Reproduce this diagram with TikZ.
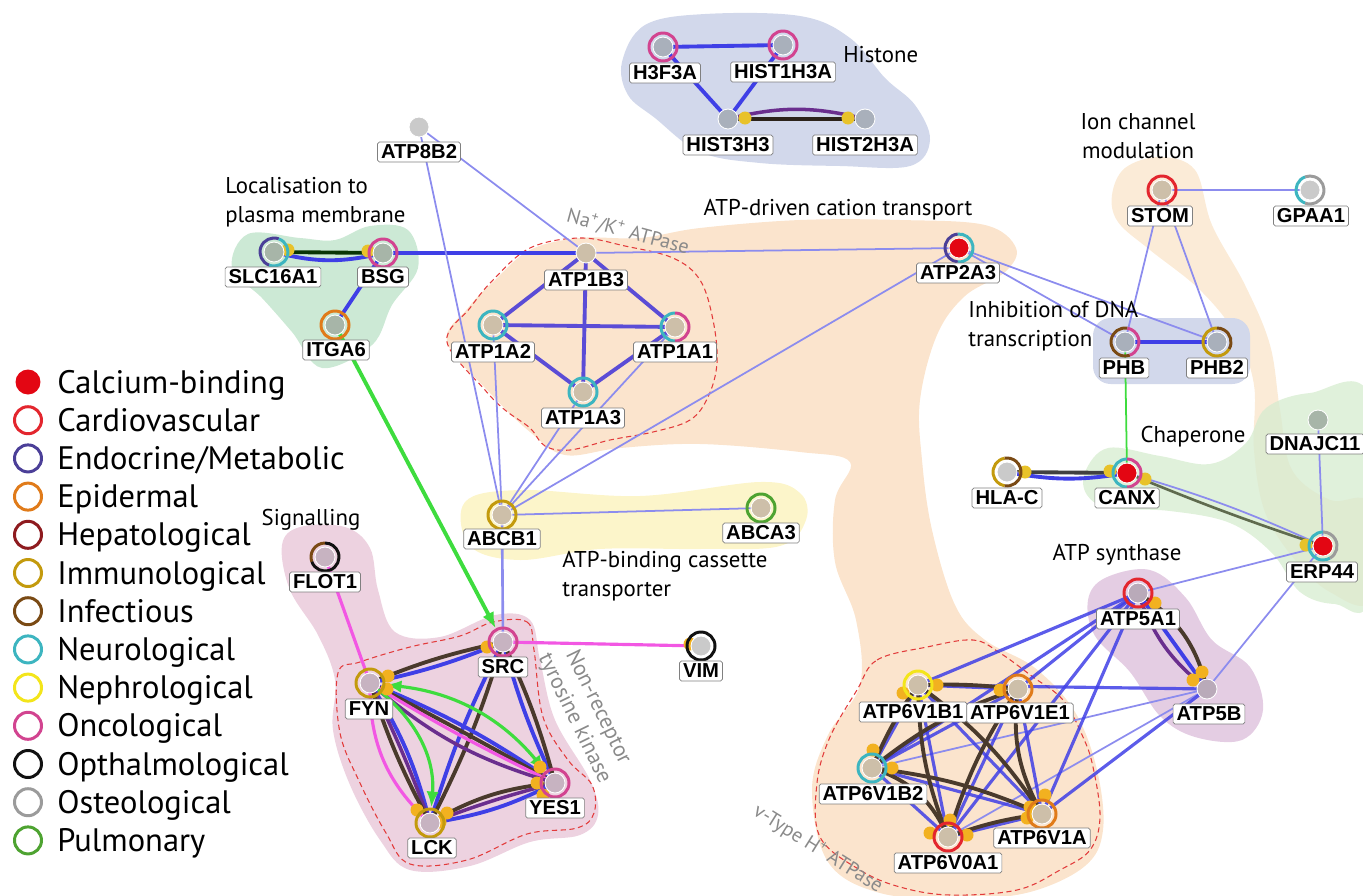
\documentclass[tikz,border=0pt]{standalone}
\usepackage{fontspec}
\setmainfont{PT Sans}
\newfontfamily\protfont{Liberation Sans}
\usetikzlibrary{arrows.meta}
\pgfdeclarelayer{blobs}
\pgfdeclarelayer{links}
\pgfsetlayers{blobs,links,main}

\definecolor{calcium}{HTML}{E30613}
\definecolor{cardio}{HTML}{E3262E}
\definecolor{endo}{HTML}{4B3F98}
\definecolor{epid}{HTML}{E07B1A}
\definecolor{hepat}{HTML}{8E1B1F}
\definecolor{immun}{HTML}{C39A0D}
\definecolor{infect}{HTML}{7A4A14}
\definecolor{neuro}{HTML}{3DB5C0}
\definecolor{nephro}{HTML}{F3E51B}
\definecolor{onco}{HTML}{D24490}
\definecolor{optha}{HTML}{111111}
\definecolor{osteo}{HTML}{9B9B9B}
\definecolor{pulmo}{HTML}{4EA331}
\definecolor{tanfill}{HTML}{CDBFA9}
\definecolor{greyfill}{HTML}{A9B0BB}
\definecolor{lightfill}{HTML}{CACACA}
\definecolor{mauvefill}{HTML}{C7B3C1}
\definecolor{sagefill}{HTML}{A7B5A8}
\definecolor{lilacfill}{HTML}{B9AAB9}
\definecolor{histbg}{HTML}{D2D8EB}
\definecolor{locbg}{HTML}{CCE9D5}
\definecolor{cationbg}{HTML}{FBE4CD}
\definecolor{ionbg}{HTML}{FBEBD7}
\definecolor{chapbg}{HTML}{D6ECCF}
\definecolor{abcbg}{HTML}{FCF5CA}
\definecolor{sigbg}{HTML}{EDD2E0}
\definecolor{synbg}{HTML}{E4CDE3}
\definecolor{faint}{HTML}{8C8CEE}
\definecolor{strong}{HTML}{3F3FE6}
\definecolor{naklink}{HTML}{5B4CD6}
\definecolor{darklink}{HTML}{4A3A2C}
\definecolor{purplelink}{HTML}{6A2E8E}
\definecolor{pinklink}{HTML}{F257E3}
\definecolor{greenlink}{HTML}{3EDC3E}
\definecolor{olivelink}{HTML}{5F6B4E}
\definecolor{blobline}{HTML}{E23B3B}
\definecolor{dot}{HTML}{F2B120}
\definecolor{yellowdot}{HTML}{E8C22A}
\definecolor{greytext}{HTML}{8A8A8A}

\newcommand{\protring}[2]{\draw[#2, line width=1.7pt] (#1.center) circle[radius=0.28cm];}
\newcommand{\protsplit}[5]{%
  \draw[#2, line width=1.7pt] (#1.center) ++(#4:0.28cm) arc[start angle=#4, end angle=#5, radius=0.28cm];
  \draw[#3, line width=1.7pt] (#1.center) ++(#5:0.28cm) arc[start angle=#5, end angle=#4+360, radius=0.28cm];}

\begin{document}
\begin{tikzpicture}[x=0.02cm, y=-0.02cm,
    prot/.style={circle, minimum size=0.4cm, inner sep=0pt, draw=white, line width=0.5pt},
    tag/.style={draw=black!50, fill=white, rounded corners=1pt, inner xsep=2pt, inner ysep=1.3pt,
      text height=8.3pt, text depth=0.4pt, font=\protfont\bfseries\fontsize{11.5}{12}\selectfont},
    grouptext/.style={font=\fontsize{13}{16.5}\selectfont, align=left, inner sep=0pt},
    greylabel/.style={text=greytext, font=\fontsize{11.5}{13.5}\selectfont, inner sep=0pt},
    faintl/.style={faint, line width=1pt},
    strongl/.style={strong, line width=2.2pt},
    nakl/.style={naklink, line width=2.2pt},
    darkl/.style={darklink, line width=2.2pt},
    purplel/.style={purplelink, line width=2pt},
    pinkl/.style={pinklink, line width=1.8pt},
    greenl/.style={greenlink, line width=1.8pt},
    dashblob/.style={blobline, line width=0.6pt, dash pattern=on 3pt off 2pt},
    legdisc/.style={circle, minimum size=0.54cm, inner sep=0pt, line width=1.7pt},
    legtext/.style={anchor=base west, font=\fontsize{18.5}{20}\selectfont, inner sep=0pt}
  ]
  \useasboundingbox (0,0) rectangle (1363,896);

  \begin{pgfonlayer}{blobs}
    \fill[cationbg] plot[smooth cycle, tension=0.6] coordinates {(493,282) (530,250) (580,238) (640,238) (700,228) (800,220) (900,220) (985,225) (1016,248) (1005,272) (965,296) (937,335) (920,400) (922,460) (932,530) (955,605) (985,640) (1035,668) (1075,712) (1097,770) (1103,830) (1085,866) (1030,892) (960,899) (880,893) (828,862) (812,790) (828,735) (860,685) (856,620) (835,562) (835,500) (850,462) (800,452) (700,444) (620,448) (565,455) (530,432) (490,393) (447,342) (468,308)};
    \fill[ionbg] plot[smooth cycle, tension=0.6] coordinates {(1112,195) (1125,168) (1160,157) (1195,170) (1212,225) (1245,285) (1270,345) (1280,410) (1292,470) (1330,500) (1370,505) (1370,600) (1330,592) (1295,560) (1265,512) (1254,450) (1254,385) (1236,335) (1200,290) (1150,250) (1118,222)};
    \fill[chapbg, opacity=0.75] plot[smooth cycle, tension=0.6] coordinates {(1085,472) (1108,448) (1160,456) (1210,464) (1246,443) (1266,408) (1310,393) (1370,398) (1370,595) (1335,604) (1300,592) (1272,553) (1230,523) (1170,511) (1110,508) (1087,495)};
    \fill[histbg] plot[smooth cycle, tension=0.6] coordinates {(622,62) (645,25) (705,14) (800,16) (850,38) (885,78) (915,105) (930,140) (910,166) (840,166) (760,163) (700,152) (655,118) (628,95)};
    \fill[locbg] plot[smooth cycle, tension=0.6] coordinates {(232,268) (248,234) (300,238) (335,240) (370,226) (408,230) (418,268) (392,305) (372,345) (322,368) (292,332) (262,298)};
    \fill[histbg, rounded corners=10pt] (1093,318) rectangle (1250,384);
    \fill[abcbg] plot[smooth cycle, tension=0.6] coordinates {(465,502) (520,490) (640,496) (760,482) (800,493) (806,520) (780,546) (700,549) (600,549) (520,560) (470,546)};
    \fill[sigbg] plot[smooth cycle, tension=0.6] coordinates {(282,545) (300,527) (345,527) (370,548) (378,590) (395,632) (440,637) (495,615) (530,620) (540,660) (555,720) (590,780) (598,815) (580,835) (530,842) (470,866) (410,870) (380,840) (350,785) (333,730) (335,680) (318,635) (290,590)};
    \fill[synbg] plot[smooth cycle, tension=0.6] coordinates {(1088,600) (1105,578) (1150,570) (1186,598) (1212,640) (1250,667) (1263,710) (1242,740) (1195,737) (1160,716) (1130,672) (1095,636)};
    \draw[dashblob] plot[smooth cycle, tension=0.6] coordinates {(530,248) (580,238) (625,246) (673,258) (700,280) (713,320) (717,363) (708,397) (690,420) (653,432) (610,440) (570,450) (545,446) (530,428) (505,410) (485,390) (447,342) (470,308) (493,280)};
    \draw[dashblob] plot[smooth cycle, tension=0.6] coordinates {(493,622) (527,622) (534,650) (543,717) (568,760) (592,785) (594,813) (577,828) (527,834) (467,860) (410,864) (386,833) (360,783) (340,733) (338,673) (360,662) (410,647) (460,636)};
    \draw[dashblob] plot[smooth cycle, tension=0.6] coordinates {(857,690) (877,660) (927,647) (973,640) (1000,653) (1033,677) (1063,700) (1083,737) (1093,767) (1100,817) (1090,850) (1060,870) (1017,890) (950,895) (900,887) (860,870) (820,837) (817,783) (830,737)};
  \end{pgfonlayer}

  \node[grouptext, anchor=west] (histone-t) at (843,55) {Histone};
  \node[grouptext, anchor=west] (loc-t) at (225,202) {Localisation to\\plasma membrane};
  \node[grouptext] (cation-t) at (838,210) {ATP-driven cation transport};
  \node[grouptext, align=center] (ion-t) at (1138,136) {Ion channel\\modulation};
  \node[grouptext, anchor=west] (dna-t) at (968,326) {Inhibition of DNA\\transcription};
  \node[grouptext] (chap-t) at (1193,437) {Chaperone};
  \node[grouptext] (syn-t) at (1117,555) {ATP synthase};
  \node[grouptext, anchor=west] (abc-t) at (562,576) {ATP-binding cassette\\transporter};
  \node[grouptext] (sig-t) at (311,520) {Signalling};
  \node[greylabel, rotate=-15] (nak-t) at (628,232) {Na\textsuperscript{+}/K\textsuperscript{+} ATPase};
  \node[greylabel, rotate=-64, align=center, font=\fontsize{12.5}{15}\selectfont] (nrtk-t) at (586,713) {Non-receptor\\tyrosine kinase};
  \node[greylabel, rotate=-32] (vtype-t) at (818,849) {v-Type H\textsuperscript{+} ATPase};

  \node[legdisc, fill=calcium, minimum size=0.5cm, line width=0pt] (leg-0) at (28,382) {};
  \node[legtext] (legt-0) at (57,393) {Calcium-binding};
  \foreach \c/\t [count=\i] in {cardio/Cardiovascular, endo/{Endocrine/Metabolic}, epid/Epidermal,
      hepat/Hepatological, immun/Immunological, infect/Infectious, neuro/Neurological,
      nephro/Nephrological, onco/Oncological, optha/Opthalmological, osteo/Osteological,
      pulmo/Pulmonary} {
    \node[legdisc, draw=\c] (leg-\i) at (28,{382+38.2*\i}) {};
    \node[legtext] (legt-\i) at (57,{393+38.2*\i}) {\t};
  }

  \node[prot, fill=greyfill] (h3f3a) at (663,47) {};
  \node[prot, fill=greyfill] (hist1h3a) at (783,45) {};
  \node[prot, fill=greyfill] (hist3h3) at (728,119) {};
  \node[prot, fill=greyfill] (hist2h3a) at (865,119) {};
  \node[prot, fill=lightfill] (atp8b2) at (419,127) {};
  \node[prot, fill=sagefill] (slc16a1) at (274,252) {};
  \node[prot, fill=sagefill] (bsg) at (383,253) {};
  \node[prot, fill=sagefill] (itga6) at (335,325) {};
  \node[prot, fill=tanfill] (atp1b3) at (586,253) {};
  \node[prot, fill=tanfill] (atp1a2) at (493,325) {};
  \node[prot, fill=tanfill] (atp1a1) at (675,327) {};
  \node[prot, fill=tanfill] (atp1a3) at (583,392) {};
  \node[prot, fill=calcium] (atp2a3) at (959,248) {};
  \node[prot, fill=tanfill] (stom) at (1162,190) {};
  \node[prot, fill=lightfill] (gpaa1) at (1310,190) {};
  \node[prot, fill=greyfill] (phb) at (1125,342) {};
  \node[prot, fill=greyfill] (phb2) at (1217,342) {};
  \node[prot, fill=lightfill] (hlac) at (1007,472) {};
  \node[prot, fill=calcium] (canx) at (1127,473) {};
  \node[prot, fill=sagefill] (dnajc11) at (1318,420) {};
  \node[prot, fill=calcium] (erp44) at (1323,546) {};
  \node[prot, fill=tanfill] (abcb1) at (502,515) {};
  \node[prot, fill=tanfill] (abca3) at (761,508) {};
  \node[prot, fill=mauvefill] (flot1) at (325,557) {};
  \node[prot, fill=mauvefill] (src) at (503,642) {};
  \node[prot, fill=lightfill] (vim) at (701,646) {};
  \node[prot, fill=mauvefill] (fyn) at (370,683) {};
  \node[prot, fill=mauvefill] (yes1) at (555,783) {};
  \node[prot, fill=mauvefill] (lck) at (430,823) {};
  \node[prot, fill=lilacfill] (atp5a1) at (1138,593) {};
  \node[prot, fill=lilacfill] (atp5b) at (1207,689) {};
  \node[prot, fill=tanfill] (v1b1) at (918,685) {};
  \node[prot, fill=tanfill] (v1e1) at (1018,689) {};
  \node[prot, fill=tanfill] (v1b2) at (872,768) {};
  \node[prot, fill=tanfill] (v1a) at (1042,814) {};
  \node[prot, fill=tanfill] (v0a1) at (948,837) {};

  \begin{pgfonlayer}{links}
    \foreach \a/\b in {h3f3a/hist1h3a, h3f3a/hist3h3, hist1h3a/hist3h3, bsg/itga6, bsg/atp1b3, phb/phb2}
      \draw[strongl] (\a.center) -- (\b.center);
    \draw[darklink!60!black, line width=2.2pt] (hist3h3.center) -- (hist2h3a.center);
    \draw[purplel] (hist3h3.center) to[bend left=14] (hist2h3a.center);
    \draw[darklink!40!green!30!black, line width=2.2pt] (slc16a1.center) -- (bsg.center);
    \draw[strongl] (slc16a1.center) to[bend right=14] (bsg.center);
    \draw[optha!80, line width=2.2pt] (hlac.center) -- (canx.center);
    \draw[strongl] (hlac.center) to[bend right=10] (canx.center);
    \foreach \a/\b in {atp1b3/atp1a2, atp1b3/atp1a1, atp1b3/atp1a3, atp1a2/atp1a1, atp1a2/atp1a3, atp1a1/atp1a3}
      \draw[nakl] (\a.center) -- (\b.center);
    \foreach \a/\b in {atp8b2/atp1b3, atp8b2/abcb1, atp1b3/atp2a3, abcb1/atp1a2, abcb1/atp1a3, abcb1/atp1a1,
        abcb1/atp2a3, abcb1/abca3, atp2a3/phb, atp2a3/phb2, stom/gpaa1, stom/phb, stom/phb2,
        dnajc11/erp44, erp44/atp5a1, erp44/atp5b, atp5b/v1b2, atp5b/v0a1}
      \draw[faintl] (\a.center) -- (\b.center);
    \draw[faint, line width=1.5pt] (abcb1.center) -- (src.center);
    \draw[faintl] (canx.center) to[bend left=4] (erp44.center);
    \draw[olivelink, line width=1.5pt] (canx.center) to[bend right=2] (erp44.center);
    \draw[greenlink, line width=1pt] (phb.center) -- (canx.center);
    \draw[greenl, line width=2.2pt, -{Latex[length=9pt, width=7pt]}, shorten >=3pt] (itga6) -- (src);
    \draw[pinkl] (flot1.center) -- (fyn.center);
    \draw[pinkl] (src.center) -- (vim.center);
    \draw[darkl] (src.center) to[bend right=5] (fyn.center);
    \draw[strongl] (src.center) to[bend left=5] (fyn.center);
    \draw[strongl] (src.center) to[bend right=5] (lck.center);
    \draw[darkl] (src.center) to[bend left=5] (lck.center);
    \draw[strongl] (src.center) to[bend right=5] (yes1.center);
    \draw[darkl] (src.center) to[bend left=5] (yes1.center);
    \draw[strongl] (fyn.center) to[bend left=6] (yes1.center);
    \draw[darkl] (fyn.center) to[bend left=1] (yes1.center);
    \draw[pinkl] (fyn.center) to[bend right=3] (yes1.center);
    \draw[purplel] (fyn.center) to[bend right=12] (yes1.center);
    \draw[greenl, {Latex[length=9pt, width=7pt]}-{Latex[length=9pt, width=7pt]}, shorten <=3pt, shorten >=3pt] (fyn) to[bend left=22] (yes1);
    \draw[strongl] (fyn.center) to[bend left=9] (lck.center);
    \draw[purplel] (fyn.center) to[bend left=3] (lck.center);
    \draw[darkl] (fyn.center) to[bend right=5] (lck.center);
    \draw[pinkl] (fyn.center) to[bend right=24] (lck.center);
    \draw[greenl, -{Latex[length=9pt, width=7pt]}, shorten >=3pt] (fyn) to[bend left=28] (lck);
    \draw[darkl] (lck.center) to[bend left=12] (yes1.center);
    \draw[purplel] (lck.center) to[bend left=3] (yes1.center);
    \draw[strongl] (lck.center) to[bend right=9] (yes1.center);
    \draw[darkl] (atp5a1.center) to[bend left=22] (atp5b.center);
    \draw[purplel] (atp5a1.center) to[bend right=16] (atp5b.center);
    \draw[strongl] (atp5a1.center) -- (atp5b.center);
    \foreach \a/\b in {atp5a1/v1b1, atp5a1/v1e1, atp5a1/v1b2, atp5a1/v1a, atp5a1/v0a1, atp5b/v1b1, atp5b/v1a,
        v1b1/v1e1, v1b1/v0a1, v1b1/v1a, v1b1/v1b2, v1e1/v1b2, v1e1/v0a1, v1e1/v1a, v1b2/v0a1, v1b2/v1a, v0a1/v1a}
      \draw[strong, line width=1.8pt, opacity=0.85] (\a.center) -- (\b.center);
    \foreach \a/\b/\k in {v1b1/v1e1/4, v1b1/v1b2/-6, v1b1/v0a1/-10, v1b1/v1a/10, v1e1/v1b2/-10, v1e1/v0a1/-8,
        v1e1/v1a/-18, v1b2/v0a1/24, v1b2/v1a/8, v0a1/v1a/6}
      \draw[darkl] (\a.center) to[bend left=\k] (\b.center);
    \foreach \p in {(745,118), (848,118), (288,250), (368,251), (1025,472), (1110,471), (1145,479), (1306,545)}
      \fill[yellowdot] \p circle[radius=6.5];
    \foreach \p in {(487,647), (388,676), (387,689), (540,767), (537,783), (543,795), (417,810), (447,813),
        (440,822), (1155,603), (1202,672), (1193,680), (903,693), (937,685), (1000,690), (873,750),
        (892,768), (1030,807), (1045,795), (1027,818), (930,833), (967,835), (950,820), (690,644)}
      \fill[dot] \p circle[radius=6.5];
  \end{pgfonlayer}

  \protring{h3f3a}{onco}
  \protring{hist1h3a}{onco}
  \protsplit{slc16a1}{endo}{neuro}{70}{250}
  \protring{bsg}{onco}
  \protring{itga6}{epid}
  \protring{atp1a2}{neuro}
  \protsplit{atp1a1}{neuro}{onco}{90}{270}
  \protring{atp1a3}{neuro}
  \protsplit{atp2a3}{endo}{neuro}{95}{265}
  \protring{stom}{cardio}
  \protsplit{gpaa1}{neuro}{osteo}{110}{250}
  \protsplit{phb}{infect}{onco}{80}{290}
  \protsplit{phb2}{immun}{infect}{90}{330}
  \protsplit{hlac}{immun}{infect}{100}{260}
  \protsplit{canx}{neuro}{onco}{90}{270}
  \protsplit{erp44}{neuro}{osteo}{90}{300}
  \protring{abcb1}{immun}
  \protring{abca3}{pulmo}
  \protsplit{flot1}{infect}{optha}{90}{200}
  \protring{src}{onco}
  \protring{vim}{optha}
  \protring{fyn}{immun}
  \protring{yes1}{onco}
  \protring{lck}{immun}
  \protring{atp5a1}{cardio}
  \protring{v1b1}{nephro}
  \protring{v1e1}{epid}
  \protring{v1b2}{neuro}
  \protring{v1a}{epid}
  \protring{v0a1}{cardio}

  \node[tag] (h3f3a-l) at (665,73) {H3F3A};
  \node[tag] (hist1h3a-l) at (783,72) {HIST1H3A};
  \node[tag] (hist3h3-l) at (728,145) {HIST3H3};
  \node[tag] (hist2h3a-l) at (865,145) {HIST2H3A};
  \node[tag] (atp8b2-l) at (419,152) {ATP8B2};
  \node[tag] (slc16a1-l) at (273,277) {SLC16A1};
  \node[tag] (bsg-l) at (383,277) {BSG};
  \node[tag] (itga6-l) at (336,350) {ITGA6};
  \node[tag] (atp1b3-l) at (586,280) {ATP1B3};
  \node[tag] (atp1a2-l) at (493,352) {ATP1A2};
  \node[tag] (atp1a1-l) at (675,352) {ATP1A1};
  \node[tag] (atp1a3-l) at (583,418) {ATP1A3};
  \node[tag] (atp2a3-l) at (958,273) {ATP2A3};
  \node[tag] (stom-l) at (1160,216) {STOM};
  \node[tag] (gpaa1-l) at (1311,216) {GPAA1};
  \node[tag] (phb-l) at (1124,368) {PHB};
  \node[tag] (phb2-l) at (1217,368) {PHB2};
  \node[tag] (hlac-l) at (1007,498) {HLA-C};
  \node[tag] (canx-l) at (1127,498) {CANX};
  \node[tag] (dnajc11-l) at (1315,444) {DNAJC11};
  \node[tag] (erp44-l) at (1322,572) {ERP44};
  \node[tag] (abcb1-l) at (502,539) {ABCB1};
  \node[tag] (abca3-l) at (761,533) {ABCA3};
  \node[tag] (flot1-l) at (325,582) {FLOT1};
  \node[tag] (src-l) at (503,667) {SRC};
  \node[tag] (vim-l) at (701,671) {VIM};
  \node[tag] (fyn-l) at (369,709) {FYN};
  \node[tag] (yes1-l) at (555,808) {YES1};
  \node[tag] (lck-l) at (432,848) {LCK};
  \node[tag] (atp5a1-l) at (1138,619) {ATP5A1};
  \node[tag] (atp5b-l) at (1209,714) {ATP5B};
  \node[tag] (v1b1-l) at (913,712) {ATP6V1B1};
  \node[tag] (v1e1-l) at (1020,713) {ATP6V1E1};
  \node[tag] (v1b2-l) at (873,794) {ATP6V1B2};
  \node[tag] (v1a-l) at (1042,838) {ATP6V1A};
  \node[tag] (v0a1-l) at (948,863) {ATP6V0A1};
\end{tikzpicture}
\end{document}
